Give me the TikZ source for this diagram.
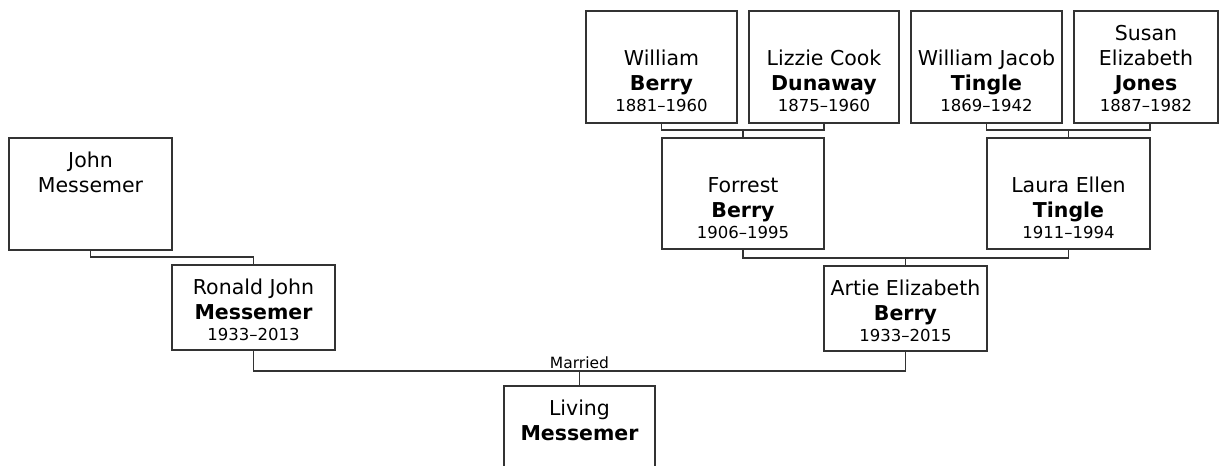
\documentclass[tikz,border=0pt]{standalone}
\usepackage{fontspec}
\setmainfont{DejaVu Sans}
\usetikzlibrary{positioning, calc}
\definecolor{treeline}{RGB}{51,51,51}
\newcommand{\namefont}{\fontsize{20.5}{25}\selectfont}
\newcommand{\yearfont}{\fontsize{16.5}{21}\selectfont}
\newcommand{\pgiven}[1]{{\namefont #1\par}}
\newcommand{\psurname}[1]{{\namefont\bfseries #1\par}}
\newcommand{\pyears}[1]{{\yearfont #1\par}}
\newcommand{\pcard}[3]{\parbox[t][#2][t]{#1}{\centering\leavevmode\rule{0pt}{29.5pt}#3}}

\begin{document}
\begin{tikzpicture}[
  x = 1pt, y = -1pt,
  person/.style     = {rectangle, draw=treeline, line width=1.4pt, fill=white, inner sep=0pt, outer sep=0pt},
  link/.style       = {draw=treeline, line width=1.4pt},
  unionlabel/.style = {inner sep=0pt, font=\fontsize{15.5}{18}\selectfont}
]
\useasboundingbox (0,0) rectangle (1219,466);
\clip (0,0) rectangle (1219,466);

% grandparents (top row)
\node[person, anchor=north west] at (586,11) (wberry)
  {\pcard{151pt}{112pt}{\par\pgiven{William}\psurname{Berry}\pyears{1881--1960}}};
\node[person, right=12pt of wberry] (lizzie)
  {\pcard{150pt}{112pt}{\par\pgiven{Lizzie Cook}\psurname{Dunaway}\pyears{1875--1960}}};
\node[person, right=12pt of lizzie] (wtingle)
  {\pcard{151pt}{112pt}{\par\pgiven{William Jacob}\psurname{Tingle}\pyears{1869--1942}}};
\node[person, right=12pt of wtingle] (susan)
  {\pcard{144pt}{112pt}{\pgiven{Susan\\Elizabeth}\psurname{Jones}\pyears{1887--1982}}};

% parents' parents
\node[person, anchor=north west] at (9,138) (john)
  {\pcard{163pt}{112pt}{\pgiven{John\\Messemer}}};
\node[person, anchor=north west] at (662,138) (forrest)
  {\pcard{162pt}{111pt}{\par\pgiven{Forrest}\psurname{Berry}\pyears{1906--1995}}};
\node[person, anchor=north west] at (987,138) (laura)
  {\pcard{163pt}{111pt}{\par\pgiven{Laura Ellen}\psurname{Tingle}\pyears{1911--1994}}};

% parents
\node[person, anchor=north west] at (172,265) (ronald)
  {\pcard{163pt}{85pt}{\pgiven{Ronald John}\psurname{Messemer}\pyears{1933--2013}}};
\node[person, anchor=north west] at (824,266) (artie)
  {\pcard{163pt}{85pt}{\pgiven{Artie Elizabeth}\psurname{Berry}\pyears{1933--2015}}};

% child
\node[person, anchor=north west] at (504,386) (living)
  {\pcard{151pt}{112pt}{\pgiven{Living}\psurname{Messemer}}};

% junctions
\coordinate (jberry)   at ([yshift=8pt]forrest.north);
\coordinate (jtingle)  at ([yshift=8pt]laura.north);
\coordinate (jartie)   at ([yshift=8pt]artie.north);
\coordinate (jmarried) at ([yshift=15pt]living.north);

\node[unionlabel, above=2.5pt of jmarried] (married) {Married};

\draw[link] (wberry.south) |- (jberry) -| (lizzie.south); \draw[link] (jberry) -- (forrest.north);
\draw[link] (wtingle.south) |- (jtingle) -| ([xshift=4pt]susan.south); \draw[link] (jtingle) -- (laura.north);
\draw[link] (forrest.south) |- (jartie) -| (laura.south); \draw[link] (jartie) -- (artie.north);
\draw[link] (john.south) |- ([yshift=8pt]ronald.north) -- (ronald.north);
\draw[link] (ronald.south) |- (jmarried) -| (artie.south); \draw[link] (jmarried) -- (living.north);
\end{tikzpicture}
\end{document}
